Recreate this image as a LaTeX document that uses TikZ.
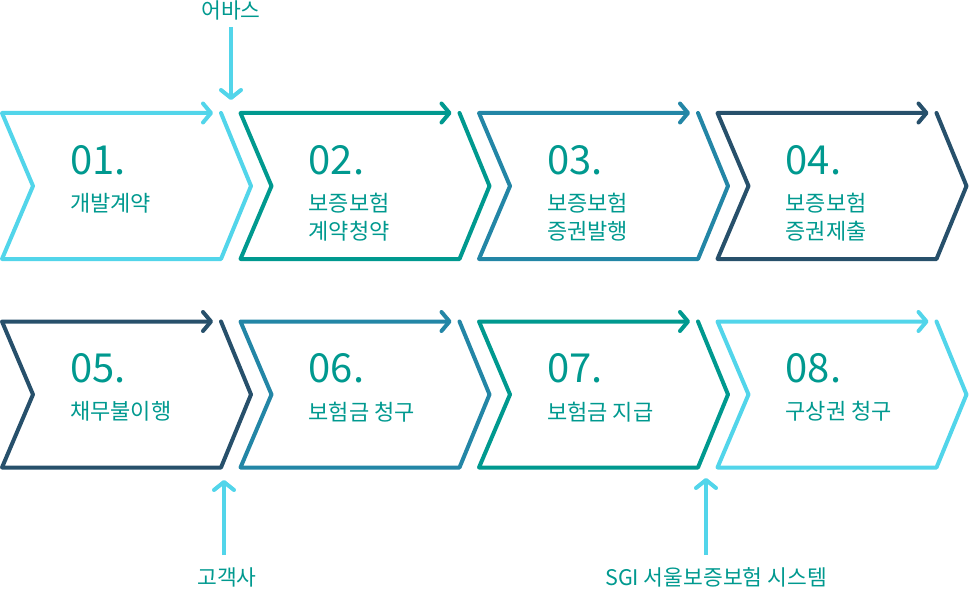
\documentclass[tikz,border=0pt]{standalone}
\usepackage{fontspec}
\setmainfont{Noto Sans CJK KR}
\usetikzlibrary{arrows.meta}
\definecolor{skyline}{HTML}{52D5EA}
\definecolor{tealline}{HTML}{00998F}
\definecolor{blueline}{HTML}{2386A6}
\definecolor{navyline}{HTML}{27506B}

\begin{document}
\begin{tikzpicture}[
    x=1pt, y=-1pt,
    stage/.style={
      line width=4pt, line join=round, line cap=round,
      -{Straight Barb[length=8pt,width=19pt,round]}
    },
    num/.style={
      anchor=base west, inner sep=0pt, text=tealline,
      font=\fontsize{40}{40}\selectfont
    },
    title/.style={
      anchor=north west, inner sep=0pt, text=tealline, align=left,
      font=\fontsize{22}{28}\selectfont
    },
    feed/.style={
      draw=skyline, line width=4pt,
      -{Straight Barb[length=8pt,width=20pt,round]}
    },
    feed label/.style={
      anchor=base, inner sep=0pt, text=tealline,
      font=\fontsize{21.5}{24}\selectfont
    }
    ]
  \useasboundingbox (0,0) rectangle (969,591);
  \foreach \i/\row/\col/\n/\txt in {
      0/0/skyline/01./개발계약,
      1/0/tealline/02./{보증보험\\계약청약},
      2/0/blueline/03./{보증보험\\증권발행},
      3/0/navyline/04./{보증보험\\증권제출},
      4/1/navyline/05./채무불이행,
      5/1/blueline/06./보험금 청구,
      6/1/tealline/07./보험금 지급,
      7/1/skyline/08./구상권 청구} {
    \pgfmathsetmacro\L{2+238.5*mod(\i,4)}
    \pgfmathsetmacro\T{113+208.5*\row}
    \draw[stage, draw=\col] (\L+219,\T) -- (\L+249,\T+73) -- (\L+219,\T+146)
      -- (\L,\T+146) -- (\L+31,\T+73) -- (\L,\T) -- (\L+211,\T);
    \node[num] (num\i) at (\L+68,\T+61) {\n};
    \node[title] (txt\i) at (\L+68,\T+80) {\txt};
  }
  \node[feed label] (obas) at (231,19) {어바스};
  \coordinate (obas in) at (231,100);
  \draw[feed, shorten <=6pt] (obas.south) -- (obas in);
  \node[feed label] (client) at (227,585) {고객사};
  \coordinate (client in) at (224,480);
  \draw[feed, shorten <=12pt] (client.north -| client in) -- (client in);
  \node[feed label] (sgi) at (716,585) {SGI 서울보증보험 시스템};
  \coordinate (sgi in) at (706,478);
  \draw[feed, shorten <=12pt] (sgi.north -| sgi in) -- (sgi in);
\end{tikzpicture}
\end{document}
